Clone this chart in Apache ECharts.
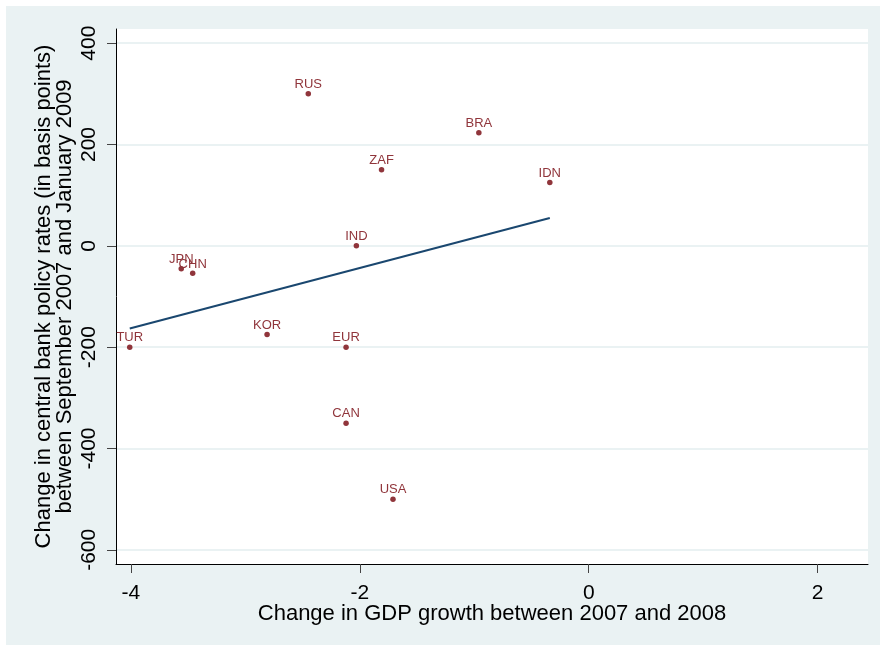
<!DOCTYPE html>
<html>
<head>
<meta charset="utf-8">
<script src="https://cdn.jsdelivr.net/npm/echarts@6/dist/echarts.min.js"></script>
<style>
  html, body { margin: 0; padding: 0; background: #ffffff; }
  #wrap { position: relative; width: 880px; height: 646px; }
  #backdrop { position: absolute; left: 6px; top: 6px; width: 874px; height: 639px; background: #EAF2F3; }
  #chart { position: absolute; left: 0; top: 0; width: 880px; height: 646px; }
</style>
</head>
<body>
<div id="wrap">
  <div id="backdrop"></div>
  <div id="chart"></div>
</div>
<script>
// Country codes and their values
const countries = ['TUR', 'JPN', 'CHN', 'KOR', 'RUS', 'BRA', 'ZAF', 'IDN', 'IND', 'EUR', 'CAN', 'USA'];
// Change in GDP growth between 2007 and 2008 (percentage points)
const gdpChange = [-4.01, -3.56, -3.46, -2.81, -2.45, -0.96, -1.81, -0.34, -2.03, -2.12, -2.12, -1.71];
// Change in central bank policy rate, Sep 2007 - Jan 2009 (basis points)
const rateChange = [-200, -45, -54, -175, 300, 223, 150, 125, 0, -200, -350, -500];

// Axis tick values
const xTicks = [-4, -2, 0, 2];
const yTicks = [-600, -400, -200, 0, 200, 400];

// Least-squares fitted line over the observed GDP range
function linearFit(xs, ys) {
  const n = xs.length;
  const mx = xs.reduce((a, b) => a + b, 0) / n;
  const my = ys.reduce((a, b) => a + b, 0) / n;
  let sxy = 0, sxx = 0;
  for (let i = 0; i < n; i++) {
    sxy += (xs[i] - mx) * (ys[i] - my);
    sxx += (xs[i] - mx) * (xs[i] - mx);
  }
  const slope = sxy / sxx;
  const intercept = my - slope * mx;
  const x0 = Math.min(...xs), x1 = Math.max(...xs);
  return [[x0, intercept + slope * x0], [x1, intercept + slope * x1]];
}

const points = countries.map((c, i) => ({ name: c, value: [gdpChange[i], rateChange[i]] }));
const fitLine = linearFit(gdpChange, rateChange);

const MAROON = '#90353B';
const NAVY = '#1A476F';
const GRID = '#EAF2F3';
const FONT = 'Liberation Sans, Arial, Helvetica, sans-serif';

const chart = echarts.init(document.getElementById('chart'), null, { renderer: 'canvas' });
chart.setOption({
  backgroundColor: 'transparent',
  animation: false,
  grid: {
    left: 116, right: 12, top: 29, bottom: 82,
    show: true, backgroundColor: '#ffffff', borderWidth: 0
  },
  xAxis: {
    type: 'value',
    min: -4.13, max: 2.44,
    name: 'Change in GDP growth between 2007 and 2008',
    nameLocation: 'middle',
    nameGap: 39,
    nameMoveOverlap: false,
    nameTextStyle: { fontFamily: FONT, fontSize: 22, color: '#000' },
    axisLine: { show: true, onZero: false, lineStyle: { color: '#000', width: 1 } },
    axisTick: { show: true, length: 9, customValues: xTicks, lineStyle: { color: '#444', width: 1 } },
    axisLabel: { customValues: xTicks, margin: 19, fontFamily: FONT, fontSize: 21, color: '#000' },
    splitLine: { show: false }
  },
  yAxis: {
    type: 'value',
    min: -628, max: 428,
    name: 'Change in central bank policy rates (in basis points)\nbetween September 2007 and January 2009',
    nameLocation: 'middle',
    nameRotate: 90,
    nameGap: 41,
    nameMoveOverlap: false,
    nameTextStyle: { fontFamily: FONT, fontSize: 22, lineHeight: 21, color: '#000', align: 'center' },
    axisLine: { show: true, onZero: false, lineStyle: { color: '#000', width: 1 } },
    axisTick: { show: true, length: 9, customValues: yTicks, lineStyle: { color: '#444', width: 1 } },
    axisLabel: { customValues: yTicks, rotate: 90, margin: 16, fontFamily: FONT, fontSize: 21, color: '#000' },
    splitLine: { show: false }
  },
  series: [
    {
      // horizontal reference lines at each y tick
      type: 'line',
      data: [],
      silent: true,
      z: 0,
      markLine: {
        silent: true,
        z: 0,
        symbol: 'none',
        label: { show: false },
        emphasis: { disabled: true },
        lineStyle: { color: GRID, width: 2, type: 'solid' },
        data: yTicks.map(v => ({ yAxis: v }))
      }
    },
    {
      type: 'line',
      data: fitLine,
      symbol: 'none',
      z: 8,
      lineStyle: { color: NAVY, width: 2 }
    },
    {
      type: 'scatter',
      data: points,
      symbol: 'circle',
      symbolSize: 5.5,
      z: 9,
      itemStyle: { color: MAROON, opacity: 1 },
      label: {
        show: true,
        position: 'top',
        distance: 0,
        formatter: p => p.name,
        fontFamily: FONT,
        fontSize: 13,
        color: MAROON
      },
      labelLayout: { hideOverlap: false }
    }
  ]
});
</script>
</body>
</html>
